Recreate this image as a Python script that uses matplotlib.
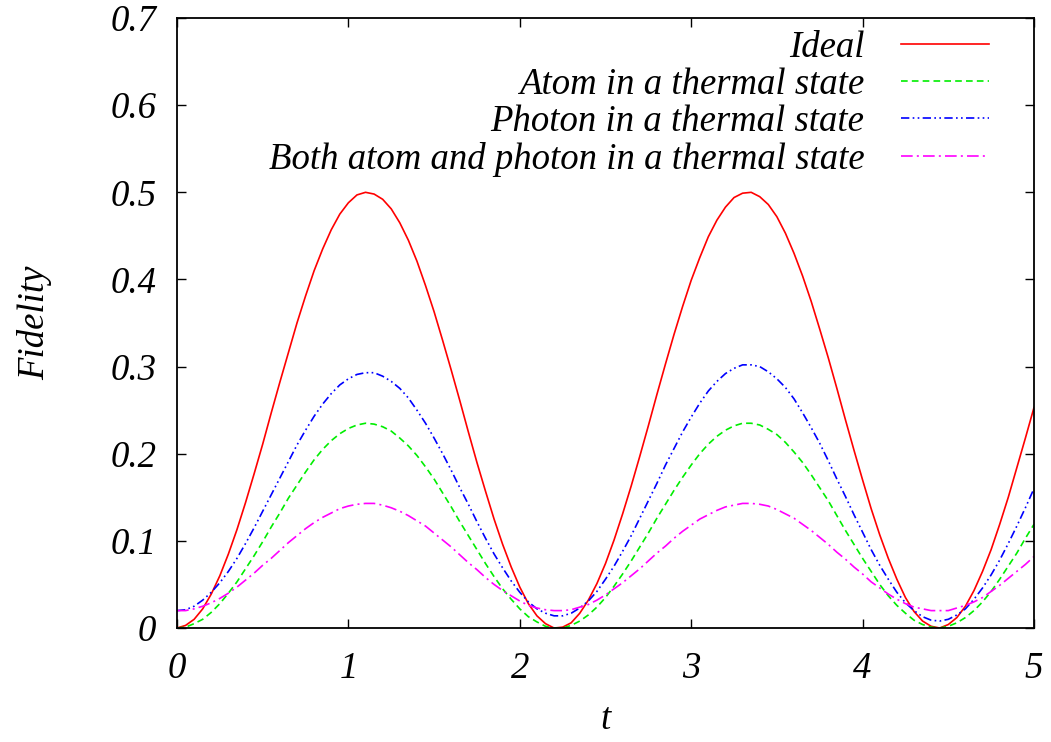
import matplotlib
matplotlib.use("Agg")
import matplotlib.pyplot as plt

# time samples, step 0.05
t = [i / 20 for i in range(101)]

ideal = [0.000, 0.003, 0.010, 0.022, 0.039, 0.060, 0.085, 0.113, 0.144, 0.177,
         0.211, 0.247, 0.282, 0.316, 0.350, 0.381, 0.410, 0.435, 0.457, 0.475,
         0.488, 0.497, 0.500, 0.498, 0.492, 0.481, 0.465, 0.445, 0.421, 0.393,
         0.363, 0.330, 0.296, 0.261, 0.225, 0.190, 0.157, 0.125, 0.096, 0.070,
         0.047, 0.028, 0.014, 0.005, 0.000, 0.001, 0.006, 0.017, 0.032, 0.051,
         0.074, 0.101, 0.131, 0.163, 0.197, 0.232, 0.268, 0.303, 0.337, 0.369,
         0.399, 0.425, 0.449, 0.468, 0.483, 0.494, 0.499, 0.500, 0.495, 0.486,
         0.472, 0.453, 0.430, 0.404, 0.375, 0.343, 0.310, 0.275, 0.239, 0.204,
         0.170, 0.137, 0.107, 0.080, 0.056, 0.035, 0.019, 0.008, 0.002, 0.000,
         0.004, 0.012, 0.025, 0.043, 0.065, 0.090, 0.119, 0.150, 0.184, 0.218,
         0.253]

atom = [0.000, 0.001, 0.005, 0.010, 0.018, 0.028, 0.040, 0.053, 0.068, 0.083,
        0.099, 0.116, 0.132, 0.149, 0.164, 0.179, 0.193, 0.205, 0.215, 0.223,
        0.229, 0.233, 0.235, 0.234, 0.231, 0.226, 0.218, 0.209, 0.198, 0.185,
        0.171, 0.155, 0.139, 0.122, 0.106, 0.090, 0.074, 0.059, 0.045, 0.033,
        0.022, 0.013, 0.007, 0.002, 0.000, 0.000, 0.003, 0.008, 0.015, 0.024,
        0.035, 0.048, 0.062, 0.077, 0.093, 0.109, 0.126, 0.142, 0.158, 0.173,
        0.187, 0.200, 0.211, 0.220, 0.227, 0.232, 0.235, 0.235, 0.233, 0.228,
        0.222, 0.213, 0.202, 0.190, 0.176, 0.161, 0.146, 0.129, 0.112, 0.096,
        0.080, 0.065, 0.050, 0.037, 0.026, 0.017, 0.009, 0.004, 0.001, 0.000,
        0.002, 0.006, 0.012, 0.020, 0.030, 0.042, 0.056, 0.071, 0.086, 0.103,
        0.119]

photon = [0.020, 0.021, 0.025, 0.032, 0.041, 0.052, 0.065, 0.080, 0.097, 0.115,
          0.134, 0.153, 0.172, 0.191, 0.210, 0.227, 0.243, 0.257, 0.269, 0.279,
          0.286, 0.291, 0.293, 0.293, 0.289, 0.283, 0.275, 0.264, 0.250, 0.235,
          0.218, 0.200, 0.181, 0.161, 0.142, 0.122, 0.103, 0.085, 0.069, 0.054,
          0.041, 0.030, 0.022, 0.017, 0.014, 0.014, 0.017, 0.023, 0.031, 0.042,
          0.056, 0.071, 0.088, 0.106, 0.126, 0.146, 0.166, 0.187, 0.206, 0.225,
          0.242, 0.258, 0.272, 0.283, 0.292, 0.298, 0.302, 0.302, 0.300, 0.294,
          0.286, 0.276, 0.263, 0.247, 0.230, 0.212, 0.192, 0.171, 0.151, 0.130,
          0.110, 0.090, 0.072, 0.056, 0.041, 0.029, 0.020, 0.013, 0.009, 0.008,
          0.010, 0.015, 0.022, 0.033, 0.046, 0.061, 0.078, 0.097, 0.117, 0.138,
          0.160]

both = [0.020, 0.020, 0.022, 0.025, 0.029, 0.034, 0.040, 0.047, 0.055, 0.063,
        0.072, 0.080, 0.089, 0.098, 0.106, 0.114, 0.121, 0.127, 0.132, 0.137,
        0.140, 0.142, 0.143, 0.143, 0.141, 0.138, 0.134, 0.129, 0.123, 0.117,
        0.109, 0.101, 0.093, 0.084, 0.075, 0.067, 0.058, 0.050, 0.043, 0.037,
        0.031, 0.026, 0.023, 0.021, 0.020, 0.020, 0.021, 0.024, 0.027, 0.032,
        0.038, 0.045, 0.052, 0.060, 0.068, 0.077, 0.086, 0.094, 0.103, 0.111,
        0.118, 0.125, 0.130, 0.135, 0.139, 0.141, 0.143, 0.143, 0.142, 0.140,
        0.136, 0.131, 0.126, 0.119, 0.112, 0.104, 0.096, 0.087, 0.079, 0.070,
        0.062, 0.053, 0.046, 0.039, 0.033, 0.028, 0.024, 0.022, 0.020, 0.020,
        0.020, 0.023, 0.026, 0.030, 0.035, 0.042, 0.049, 0.057, 0.065, 0.073,
        0.082]

labels = ["Ideal", "Atom in a thermal state", "Photon in a thermal state",
          "Both atom and photon in a thermal state"]

x_ticks = [0, 1, 2, 3, 4, 5]
y_ticks = [0, 0.1, 0.2, 0.3, 0.4, 0.5, 0.6, 0.7]
y_tick_labels = ["0", "0.1", "0.2", "0.3", "0.4", "0.5", "0.6", "0.7"]

plt.rcParams["font.family"] = ["Liberation Serif", "DejaVu Serif"]
plt.rcParams["font.style"] = "italic"
FS = 26.5

fig = plt.figure(figsize=(10.51, 7.42), dpi=100)
ax = fig.add_axes([0.1684, 0.1536, 0.8154, 0.8221])

lw = 1.2
ax.plot(t, ideal, color="#ff0000", lw=lw, label=labels[0])
ax.plot(t, atom, color="#00ee00", lw=lw, dashes=(4, 2.5), label=labels[1])
ax.plot(t, photon, color="#0000ff", lw=lw, dashes=(5, 2, 1, 2, 1, 2), label=labels[2])
ax.plot(t, both, color="#ff00ff", lw=lw, dashes=(7, 2.5, 1.2, 2.5), label=labels[3])

ax.set_xlim(0, 5)
ax.set_ylim(0, 0.7)
ax.set_xticks(x_ticks)
ax.set_xticklabels([str(v) for v in x_ticks])
ax.set_yticks(y_ticks)
ax.set_yticklabels(y_tick_labels)
ax.tick_params(direction="in", length=6.5, width=1, top=True, right=True,
               labelsize=FS)
ax.tick_params(axis="x", pad=17)
ax.tick_params(axis="y", pad=15)
for sp in ax.spines.values():
    sp.set_linewidth(1.3)

ax.set_xlabel("t", fontsize=FS, labelpad=12)
ax.set_ylabel("Fidelity", fontsize=FS, labelpad=42)

ax.legend(loc="upper right", frameon=False, markerfirst=False, fontsize=FS,
          handlelength=2.4, handletextpad=1.0, labelspacing=0.07,
          borderaxespad=0.3, bbox_to_anchor=(0.978, 1.022))

fig.savefig("out.png", dpi=100)
